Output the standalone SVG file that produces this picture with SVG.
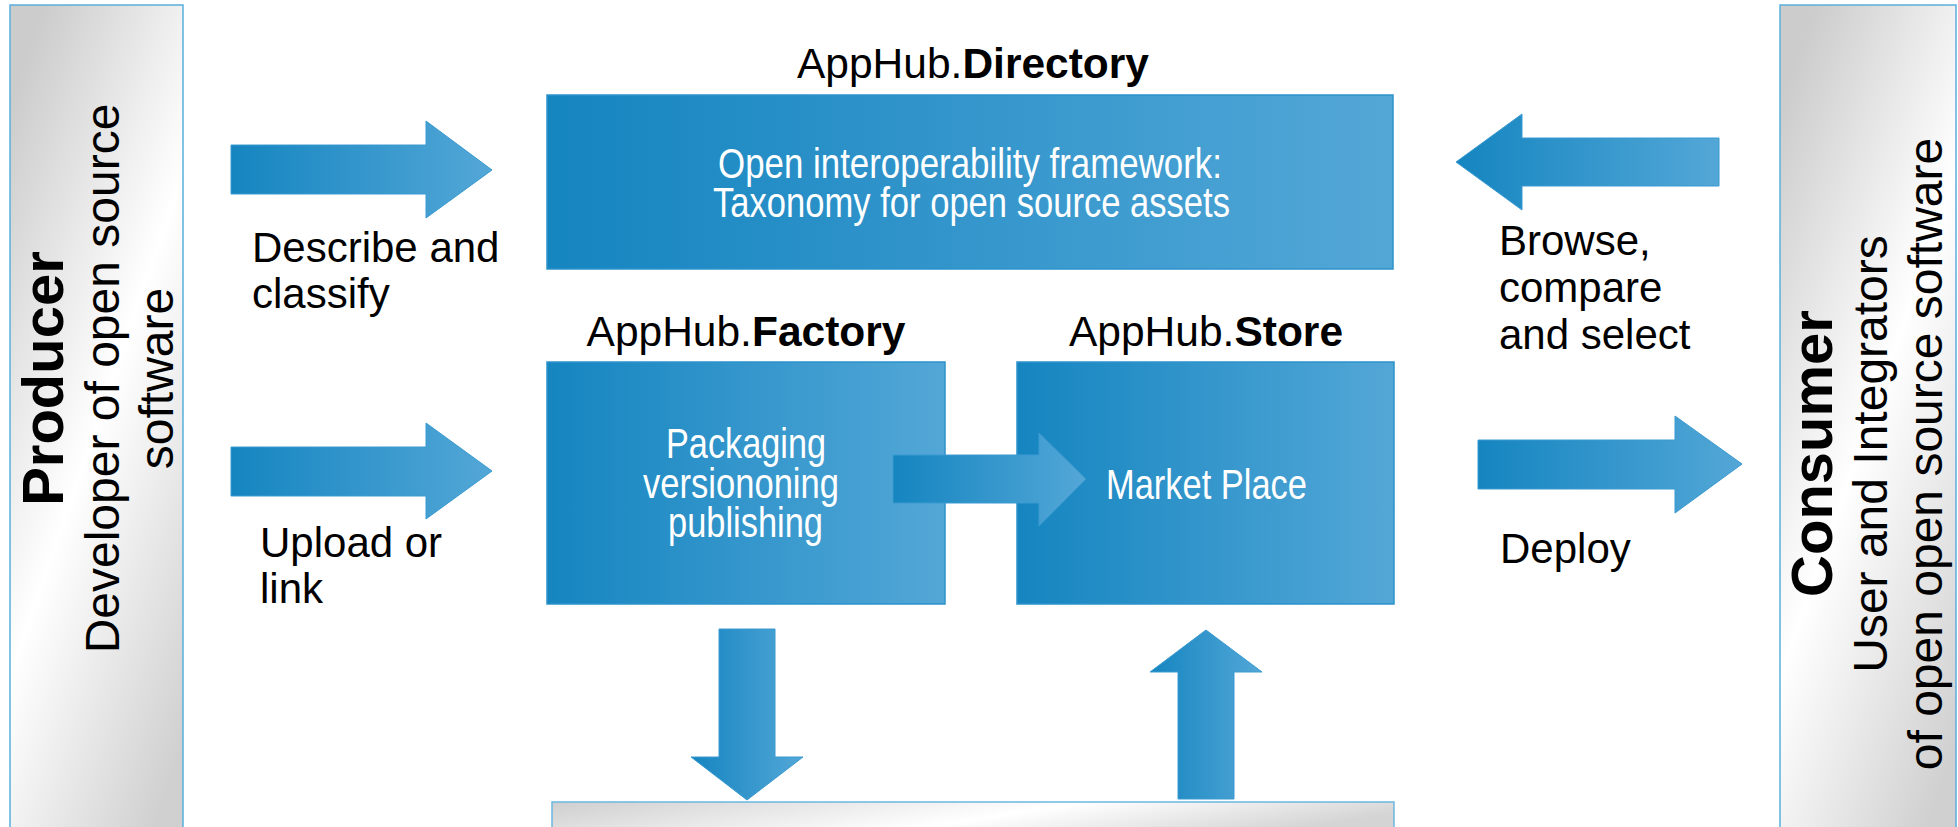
<svg xmlns="http://www.w3.org/2000/svg" width="1958" height="827" viewBox="0 0 1958 827">
<defs>
<linearGradient id="blue" x1="0" y1="0" x2="1" y2="0">
<stop offset="0" stop-color="#1585c0"/>
<stop offset="1" stop-color="#53a7d7"/>
</linearGradient>
<linearGradient id="grayV" x1="0.2" y1="0" x2="0.8" y2="1">
<stop offset="0" stop-color="#cccccc"/>
<stop offset="0.5" stop-color="#ffffff"/>
<stop offset="1" stop-color="#d0d0d0"/>
</linearGradient>
<linearGradient id="grayH" x1="0" y1="0" x2="1" y2="0.3">
<stop offset="0" stop-color="#cfcfcf"/>
<stop offset="0.58" stop-color="#ffffff"/>
<stop offset="1" stop-color="#d4d4d4"/>
</linearGradient>
<style>
.box{fill:url(#blue);stroke:#2d92cb;stroke-width:1.5}
.side{fill:url(#grayV);stroke:#5aaedc;stroke-width:1.5}
.arrow{fill:url(#blue);stroke:#3a9ad0;stroke-width:1}
.t{font-family:"Liberation Sans",Arial,sans-serif;fill:#000}
.w{font-family:"Liberation Sans Narrow","Liberation Sans",Arial,sans-serif;fill:#fff;font-size:42px}
.lbl{font-family:"Liberation Sans",Arial,sans-serif;font-size:42px;fill:#000}
.title{font-family:"Liberation Sans",Arial,sans-serif;font-size:42.5px;fill:#000}
</style>
</defs>

<g id="producer">
<rect class="side" x="10" y="5" width="173" height="840"/>
<text class="t" font-size="58" font-weight="bold" text-anchor="middle" transform="translate(63,378.5) rotate(-90)">Producer</text>
<text class="t" font-size="48" text-anchor="middle" transform="translate(119,378.5) rotate(-90)">Developer of open source</text>
<text class="t" font-size="48" text-anchor="middle" transform="translate(173,378.5) rotate(-90)">software</text>
</g>

<g id="consumer">
<rect class="side" x="1780" y="5" width="176" height="840"/>
<text class="t" font-size="58" font-weight="bold" text-anchor="middle" transform="translate(1832,453.5) rotate(-90)">Consumer</text>
<text class="t" font-size="48" text-anchor="middle" transform="translate(1887,454) rotate(-90)">User and Integrators</text>
<text class="t" font-size="48" text-anchor="middle" transform="translate(1942,454) rotate(-90)">of open open source software</text>
</g>

<g id="directory">
<text class="title" x="973" y="78" text-anchor="middle">AppHub.<tspan font-weight="bold">Directory</tspan></text>
<rect class="box" x="547" y="95" width="846" height="174"/>
<text class="w" x="970" y="178" text-anchor="middle" textLength="504" lengthAdjust="spacingAndGlyphs">Open interoperability framework:</text>
<text class="w" x="971.5" y="217" text-anchor="middle" textLength="517" lengthAdjust="spacingAndGlyphs">Taxonomy for open source assets</text>
</g>

<g id="factory">
<text class="title" x="746" y="346" text-anchor="middle">AppHub.<tspan font-weight="bold">Factory</tspan></text>
<rect class="box" x="547" y="362" width="398" height="242"/>
<text class="w" x="746" y="458" text-anchor="middle" textLength="160" lengthAdjust="spacingAndGlyphs">Packaging</text>
<text class="w" x="741" y="498" text-anchor="middle" textLength="196" lengthAdjust="spacingAndGlyphs">versiononing</text>
<text class="w" x="745.5" y="537" text-anchor="middle" textLength="155" lengthAdjust="spacingAndGlyphs">publishing</text>
</g>

<g id="store">
<text class="title" x="1206" y="346" text-anchor="middle">AppHub.<tspan font-weight="bold">Store</tspan></text>
<rect class="box" x="1017" y="362" width="377" height="242"/>
<text class="w" x="1206.5" y="499" text-anchor="middle" textLength="201" lengthAdjust="spacingAndGlyphs">Market Place</text>
</g>

<g id="repository">
<rect x="552" y="802" width="842" height="40" fill="url(#grayH)" stroke="#6cb6e0" stroke-width="1.5"/>
</g>

<g id="connectors">
<polygon class="arrow" points="231,145 426,145 426,121 492,170 426,218 426,194 231,194"/>
<polygon class="arrow" points="231,447 426,447 426,423 492,471 426,519 426,496 231,496"/>
<polygon class="arrow" points="1719,138 1522,138 1522,114 1456,162 1522,210 1522,186 1719,186"/>
<polygon class="arrow" points="1478,440 1675,440 1675,416 1742,464 1675,513 1675,489 1478,489"/>
<polygon class="arrow" points="893,455 1039,455 1039,433 1086,479 1039,526 1039,503 893,503" stroke="none"/>
<polygon class="arrow" points="719,629 775,629 775,757 803,757 747,800 691,757 719,757"/>
<polygon class="arrow" points="1206,630 1262,672 1234,672 1234,799 1178,799 1178,672 1150,672"/>
</g>

<g id="labels">
<text class="lbl" x="252" y="262">Describe and</text>
<text class="lbl" x="252" y="308">classify</text>
<text class="lbl" x="260" y="557">Upload or</text>
<text class="lbl" x="260" y="603">link</text>
<text class="lbl" x="1499" y="255">Browse,</text>
<text class="lbl" x="1499" y="302">compare</text>
<text class="lbl" x="1499" y="349">and select</text>
<text class="lbl" x="1500" y="563">Deploy</text>
</g>
</svg>
